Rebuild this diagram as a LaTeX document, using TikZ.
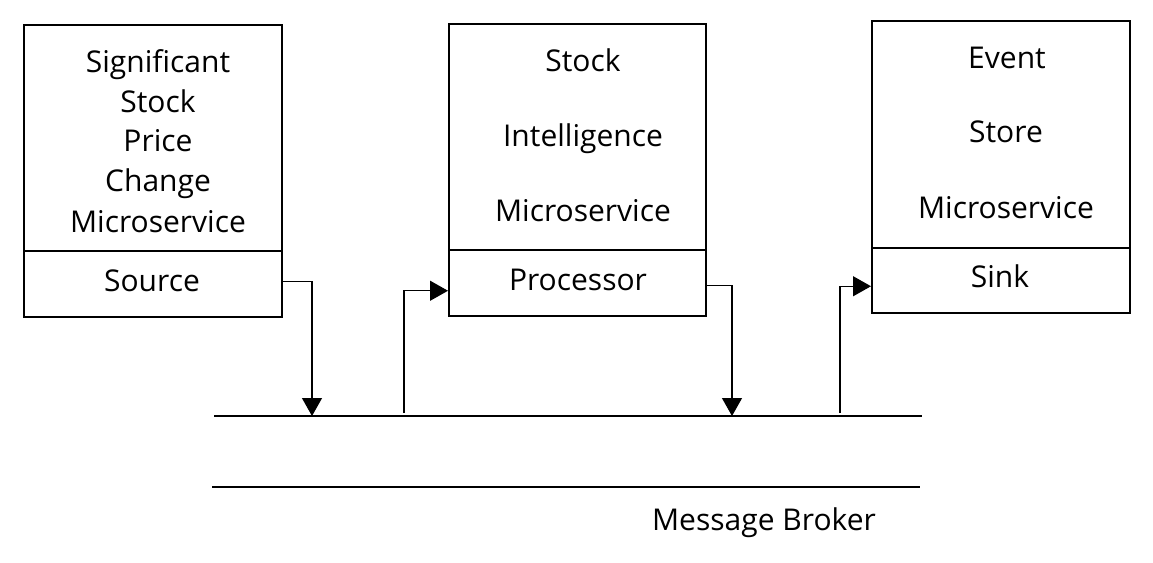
\documentclass[tikz,border=0pt]{standalone}
\usepackage{fontspec}
\setmainfont{Open Sans}
\usetikzlibrary{arrows.meta}
\begin{document}
\begin{tikzpicture}[x=1pt,y=-1pt,
  boxpart/.style={draw, line width=1.5pt, inner sep=0pt, anchor=north west, minimum width=#1},
  txt/.style={inner sep=0pt, anchor=base, font=\fontsize{30}{34}\selectfont},
  arr/.style={line width=1.2pt, -{Triangle[length=18pt,width=20pt]}},
  bus/.style={line width=1.6pt}]
\useasboundingbox (0,0) rectangle (1153,562);
% box 1
\node[boxpart=258pt, minimum height=226pt] (srcTop) at (23,24) {};
\node[boxpart=258pt, minimum height=66pt] (src) at (23,250) {};
\node[txt] (t1a) at (158,72.7) {Significant};
\node[txt] (t1b) at (158,112.7) {Stock};
\node[txt] (t1c) at (158,151.7) {Price};
\node[txt] (t1d) at (158,191.7) {Change};
\node[txt] (t1e) at (158,232.3) {Microservice};
\node[txt] (t1f) at (152,291) {Source};
% box 2
\node[boxpart=257pt, minimum height=226pt] (procTop) at (448,23) {};
\node[boxpart=257pt, minimum height=66pt] (proc) at (448,249) {};
\node[txt] (t2a) at (583,71.7) {Stock};
\node[txt] (t2b) at (583,146.7) {Intelligence};
\node[txt] (t2c) at (583,221.7) {Microservice};
\node[txt] (t2d) at (578,290) {Processor};
% box 3
\node[boxpart=258pt, minimum height=227pt] (sinkTop) at (871,20) {};
\node[boxpart=258pt, minimum height=65pt] (sink) at (871,247) {};
\node[txt] (t3a) at (1007,68.3) {Event};
\node[txt] (t3b) at (1006,142.7) {Store};
\node[txt] (t3c) at (1006,218.3) {Microservice};
\node[txt] (t3d) at (1000,287.7) {Sink};
% broker
\coordinate (busAL) at (214,416);
\coordinate (busAR) at (922,416);
\coordinate (busBL) at (212,487);
\coordinate (busBR) at (920,487);
\draw[bus] (busAL) -- (busAR);
\draw[bus] (busBL) -- (busBR);
\node[txt] (broker) at (764,530) {Message Broker};
% connectors
\coordinate (b1) at (312,416);
\coordinate (b2) at (404,413);
\coordinate (b3) at (732,416);
\coordinate (b4) at (840,413);
\draw[arr] ([yshift=2pt]src.east) -| (b1);
\draw[arr] (b2) |- ([yshift=-8pt]proc.west);
\draw[arr] ([yshift=-3pt]proc.east) -| (b3);
\draw[arr] (b4) |- ([yshift=-6pt]sink.west);
\end{tikzpicture}
\end{document}
